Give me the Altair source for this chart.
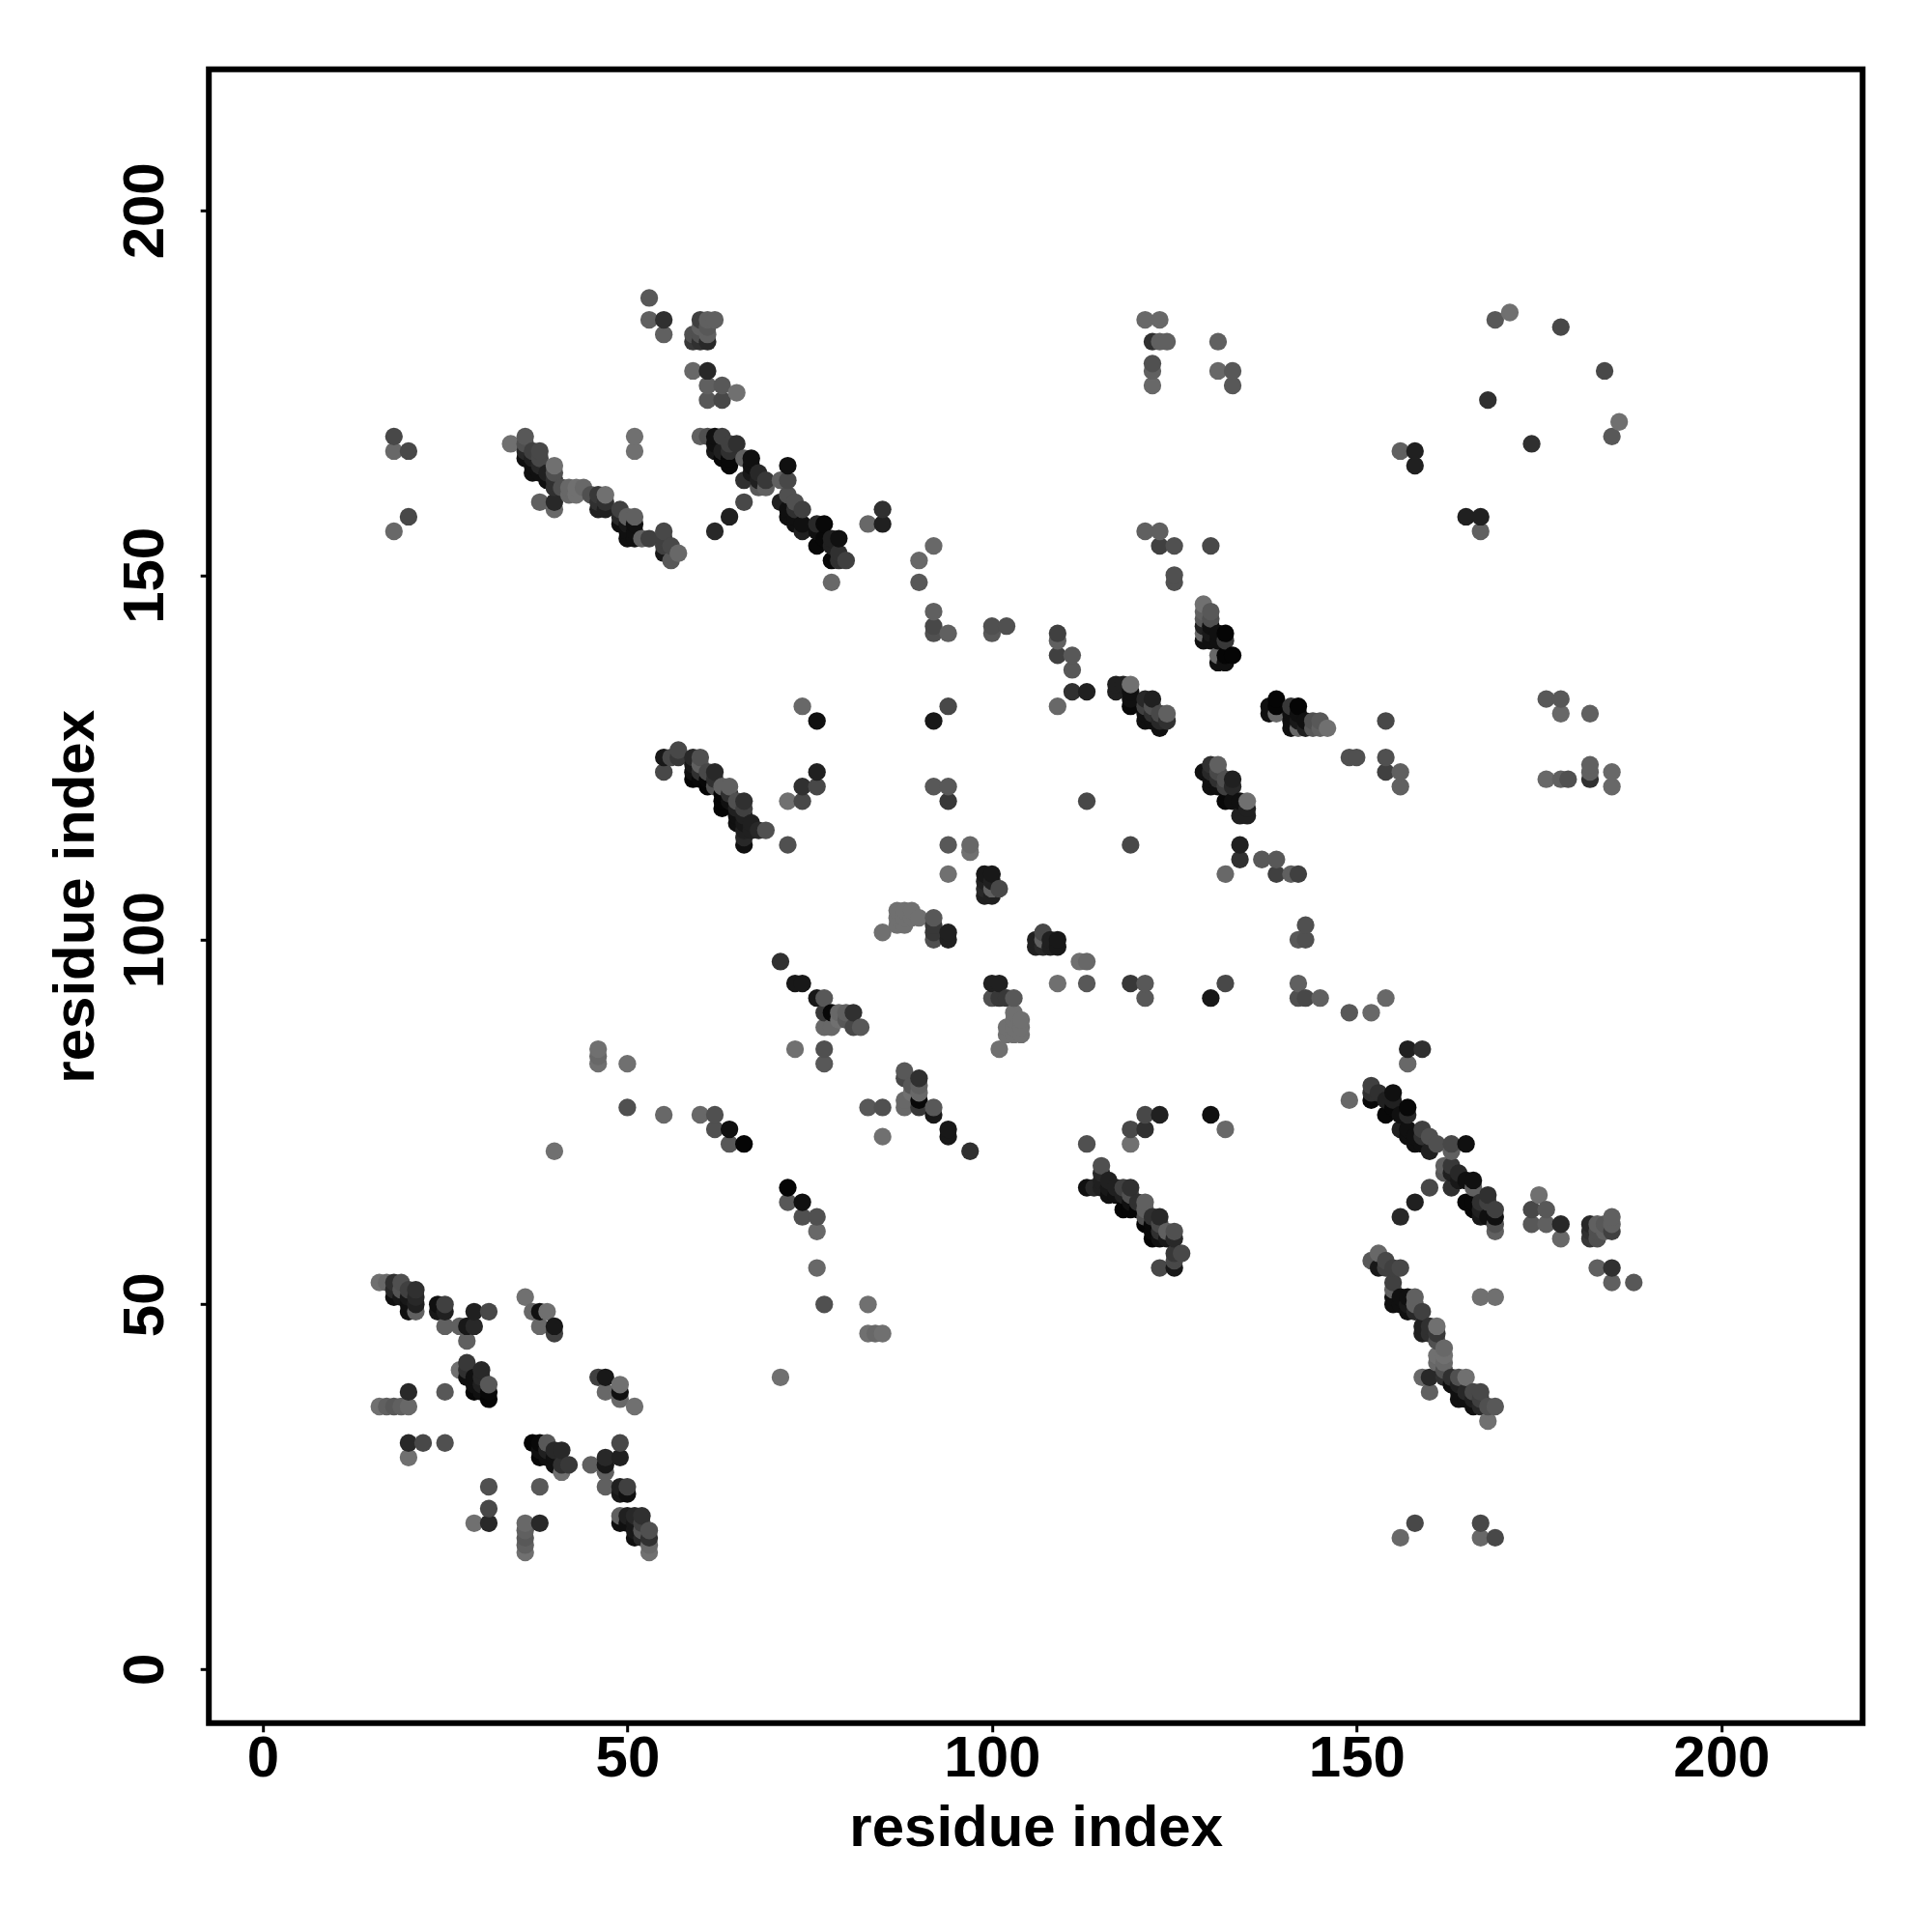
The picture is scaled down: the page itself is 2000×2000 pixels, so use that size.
import altair as alt
import pandas as pd

# contacts as (residue i, residue j, grey level); each one is also drawn as (j, i)
block_a = [(16,53,0x70),(17,53,0x68),(18,53,0x30),(19,53,0x50),(18,52,0x28),(18,51,0x10),(19,52,0x55),(19,51,0x18),
 (20,52,0x40),(20,51,0x18),(20,50,0x10),(20,49,0x10),(21,52,0x30),(21,51,0x28),(21,50,0x20),(21,49,0x60),
 (24,50,0x10),(24,49,0x18),(25,50,0x40),(25,49,0x20),(25,47,0x60),(27,47,0x60),(28,47,0x18),(29,47,0x28),
 (29,49,0x20),(31,49,0x48),(28,45,0x60),(36,51,0x70),(37,49,0x68),(38,49,0x10),(39,49,0x70),(38,47,0x68),
 (40,47,0x18),(40,46,0x40)]
block_b = [(28,42,0x38),(27,41,0x70),(28,41,0x30),(28,40,0x10),(30,41,0x28),(29,40,0x10),(29,39,0x10),(29,38,0x08),
 (30,40,0x28),(30,39,0x20),(30,38,0x10),(31,39,0x58),(31,38,0x08),(31,37,0x05),(20,38,0x28),(25,38,0x58),
 (16,36,0x70),(17,36,0x60),(18,36,0x58),(19,36,0x60),(20,36,0x68),(20,31,0x28),(22,31,0x48),(25,31,0x50),
 (20,29,0x70),(29,20,0x70)]
block_c = [(53,188,0x58),(53,185,0x60),(55,185,0x30),(55,183,0x60),(60,185,0x40),(61,185,0x60),(62,185,0x60),
 (59,183,0x50),(59,182,0x38),(60,183,0x50),(60,182,0x30),(61,184,0x58),(61,183,0x60),(61,182,0x28),(60,184,0x60),
 (59,178,0x68),(61,178,0x28),(61,176,0x60),(63,176,0x58),(65,175,0x70),(61,174,0x58),(63,174,0x48)]
block_d = [(18,169,0x48),(18,167,0x68),(20,167,0x48),(18,156,0x68),(20,158,0x48),(34,168,0x70),(36,169,0x58),(36,168,0x50),
 (36,167,0x28),(36,166,0x10),(37,167,0x40),(37,166,0x20),(37,165,0x10),(37,164,0x10),(38,167,0x48),(38,166,0x48),
 (38,165,0x28),(38,164,0x10),(39,164,0x20),(39,163,0x10),(40,165,0x70),(40,164,0x50),(40,163,0x30),(40,162,0x30),
 (38,160,0x60),(40,160,0x28),(40,159,0x68),(41,162,0x50),(42,162,0x68),(43,162,0x70),(44,162,0x68),(42,161,0x68),
 (43,161,0x70),(45,161,0x50),(46,161,0x38),(46,160,0x30),(46,159,0x20),(47,161,0x70),(47,160,0x30),(47,159,0x20),
 (49,159,0x40),(49,158,0x28),(49,157,0x10),(50,158,0x60),(50,157,0x18),(50,156,0x10),(50,155,0x10),(51,158,0x60),
 (51,157,0x10),(51,156,0x10),(51,155,0x10),(52,155,0x60),(53,155,0x40),(55,156,0x48),(55,155,0x40),(55,154,0x40),
 (55,153,0x18),(56,154,0x48),(56,152,0x58),(57,153,0x68),(51,169,0x70),(51,167,0x70)]
block_e = [(60,169,0x60),(61,169,0x50),(62,169,0x10),(63,169,0x40),(62,168,0x10),(62,167,0x18),(64,168,0x40),(65,168,0x30),
 (64,167,0x30),(64,166,0x08),(64,165,0x08),(63,167,0x20),(63,166,0x08),(66,166,0x60),(67,166,0x10),(67,165,0x10),
 (66,163,0x30),(67,164,0x18),(68,164,0x28),(68,163,0x20),(69,163,0x38),(68,162,0x58),(69,162,0x60),(72,165,0x10),
 (71,163,0x60),(72,163,0x48),(66,160,0x48),(64,158,0x20),(62,156,0x28),(71,160,0x20),(72,161,0x50),(72,159,0x10),
 (72,158,0x10),(73,160,0x50),(73,159,0x30),(73,158,0x10),(73,157,0x10),(74,159,0x40),(74,157,0x10),(74,156,0x20),
 (76,157,0x28),(76,156,0x10),(76,154,0x08),(77,157,0x08),(77,155,0x08),(78,155,0x20),(78,154,0x20),(78,152,0x08),
 (79,155,0x10),(79,153,0x30),(80,152,0x40),(79,152,0x30),(78,149,0x68),(85,159,0x30),(85,157,0x20),(83,157,0x68),
 (90,152,0x68),(90,149,0x58),(92,154,0x68),(92,145,0x60),(92,143,0x48),(92,142,0x50),(94,142,0x60)]
block_f = [(100,143,0x50),(100,142,0x58),(102,143,0x50),(109,142,0x40),(109,141,0x60),(109,139,0x40),(111,139,0x58),
 (111,137,0x58),(109,132,0x68),(111,134,0x30),(113,134,0x20),(121,185,0x68),(123,185,0x68),(122,182,0x30),(123,182,0x60),
 (124,182,0x60),(122,179,0x50),(122,178,0x60),(122,176,0x68),(131,182,0x60),(131,178,0x68),(133,178,0x58),(133,176,0x58),
 (169,185,0x58),(171,186,0x70),(178,184,0x48),(168,174,0x30),(156,167,0x60),(158,167,0x20),(158,165,0x20),
 (121,156,0x60),(123,156,0x60),(123,154,0x40),(125,154,0x50),(125,150,0x50),(125,149,0x50),(130,154,0x48)]
block_g = [(129,146,0x70),(129,145,0x60),(130,145,0x58),(129,144,0x58),(130,144,0x50),(129,143,0x20),(129,142,0x68),
 (129,141,0x10),(130,143,0x10),(130,142,0x18),(130,141,0x10),(131,142,0x10),(132,142,0x05),(132,141,0x38),(131,141,0x10),
 (131,139,0x68),(131,138,0x10),(132,139,0x05),(132,138,0x10),(133,139,0x05),
 (117,135,0x20),(117,134,0x20),(118,135,0x20),(119,135,0x70),(119,134,0x10),(119,133,0x10),(119,132,0x08),(121,133,0x28),
 (122,133,0x20),(121,132,0x40),(121,131,0x10),(121,130,0x10),(122,132,0x50),(122,131,0x30),(122,130,0x10),(123,131,0x48),
 (123,130,0x28),(123,129,0x10),(124,131,0x60),(124,130,0x30)]
block_h = [(55,125,0x18),(55,123,0x48),(56,125,0x48),(57,126,0x48),(57,125,0x38),(59,125,0x28),(60,125,0x50),(59,124,0x18),
 (59,123,0x10),(59,122,0x05),(60,124,0x60),(60,123,0x30),(60,122,0x08),(61,123,0x48),(61,122,0x08),(61,121,0x05),
 (62,123,0x28),(62,122,0x30),(62,121,0x50),(63,121,0x60),(63,120,0x05),(63,119,0x05),(63,118,0x05),(64,121,0x60),
 (64,120,0x30),(64,119,0x10),(65,119,0x50),(65,118,0x20),(65,117,0x10),(65,116,0x10),(66,119,0x30),(66,118,0x40),
 (66,117,0x20),(66,116,0x18),(66,115,0x20),(66,114,0x28),(66,113,0x10),(67,116,0x20),(67,115,0x20),(68,115,0x28),(69,115,0x50),
 (72,119,0x70),(74,121,0x30),(74,119,0x48),(76,123,0x20),(76,121,0x48),(72,113,0x50),(74,132,0x68),(76,130,0x10),
 (92,130,0x18),(94,132,0x48),(92,121,0x58),(94,121,0x58),(94,119,0x38),(94,113,0x58),(97,113,0x68),(97,112,0x70),
 (94,109,0x70),(113,119,0x48),(119,113,0x48)]
block_i = [(99,109,0x18),(100,109,0x18),(99,108,0x20),(100,108,0x20),(99,107,0x28),(100,107,0x60),(101,107,0x48),(99,106,0x20),
 (100,106,0x20),(87,104,0x70),(88,104,0x70),(89,104,0x70),(90,103,0x70),(87,103,0x70),(88,103,0x70),(89,103,0x70),(88,102,0x70),(87,102,0x70),
 (85,101,0x70),(92,103,0x58),(92,102,0x38),(92,101,0x38),(92,100,0x50),(94,101,0x20),(94,100,0x20)]
block_j = [(71,97,0x30),(73,94,0x18),(74,94,0x18),(76,92,0x18),(77,92,0x58),(77,90,0x38),(78,90,0x08),(79,90,0x68),(79,89,0x70),
 (80,90,0x60),(80,89,0x58),(81,90,0x30),(77,88,0x68),(78,88,0x68),(81,88,0x48),(82,88,0x58),(73,85,0x70),(77,85,0x50),
 (77,83,0x58),(55,76,0x68),(60,76,0x68),(62,76,0x50),(62,74,0x50),(64,74,0x10),(64,72,0x58),(66,72,0x05),(50,77,0x50),
 (50,83,0x70),(40,71,0x70),(46,85,0x70),(46,84,0x68),(46,83,0x70)]

blocks = [block_a, block_b, block_c, block_d, block_e, block_f, block_g, block_h, block_i, block_j]
tick_values = [0, 50, 100, 150, 200]
axis_title = "residue index"

rows = []
for block in blocks:
    for i, j, g in block:
        c = f"#{g:02x}{g:02x}{g:02x}"
        rows.append((i, j, c))
        rows.append((j, i, c))
df = pd.DataFrame(rows, columns=["x", "y", "c"]).drop_duplicates(["x", "y"]).sort_values(["x", "y"])

FONT = "Liberation Sans"


def axis(padding, title_padding, **kw):
    return alt.Axis(values=tick_values, title=axis_title, grid=False, domain=False, format="d",
                    tickSize=9, tickWidth=3, tickColor="black",
                    labelFont=FONT, labelFontWeight="bold", labelFontSize=60, labelColor="black",
                    labelPadding=padding, labelOverlap=False, labelFlush=False,
                    titleFont=FONT, titleFontWeight="bold", titleFontSize=60, titleColor="black",
                    titlePadding=title_padding, **kw)


chart = (
    alt.Chart(df)
    .mark_circle(size=335, opacity=1)
    .encode(
        x=alt.X("x:Q", scale=alt.Scale(domain=[-7.38, 219.38], nice=False, zero=False), axis=axis(-1, 12.7)),
        y=alt.Y("y:Q", scale=alt.Scale(domain=[-7.42, 219.34], nice=False, zero=False),
                axis=axis(25.5, 11.5, labelAngle=270, labelAlign="center", labelBaseline="bottom")),
        color=alt.Color("c:N", scale=None),
        order=alt.Order("x:Q"),
    )
    .properties(width=1712, height=1712, background="white",
                autosize=alt.AutoSizeParams(type="none"),
                padding={"left": 208.2, "top": 63.8, "right": 60, "bottom": 200})
    .configure_view(stroke="black", strokeWidth=6)
)

chart.save("out.html", embed_options={"renderer": "svg", "actions": False})
